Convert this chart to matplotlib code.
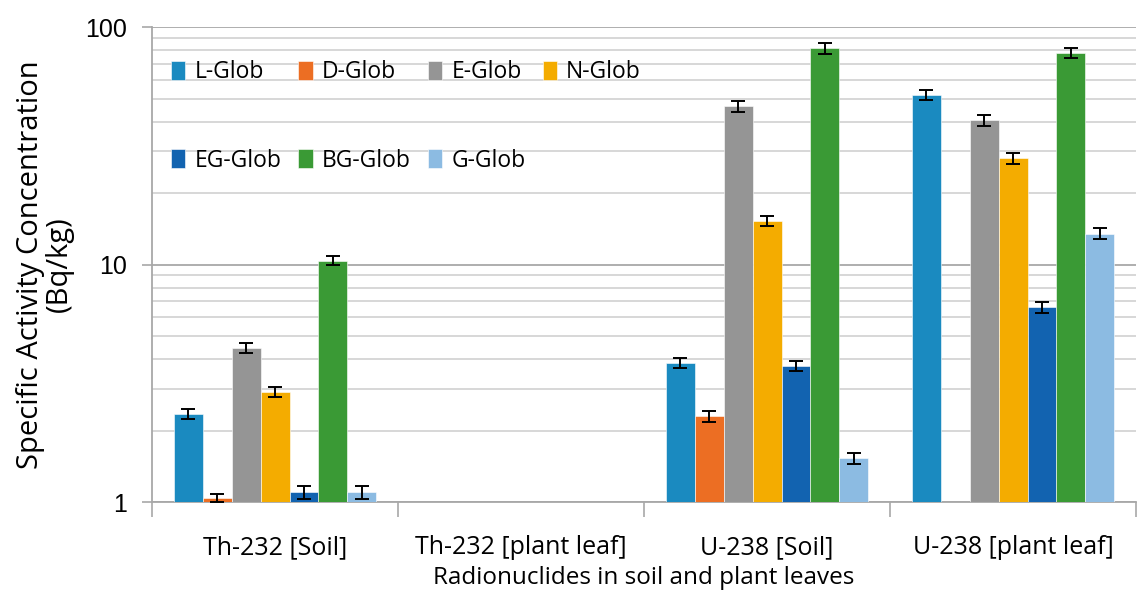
import numpy as np
import matplotlib
matplotlib.use('Agg')
import matplotlib.pyplot as plt
from matplotlib.ticker import LogLocator, NullFormatter, FixedLocator

plt.rcParams['font.family'] = ['Open Sans', 'DejaVu Sans']

# Data
categories = ['Th-232 [Soil]', 'Th-232 [plant leaf]', 'U-238 [Soil]', 'U-238 [plant leaf]']
series = ['L-Glob', 'D-Glob', 'E-Glob', 'N-Glob', 'EG-Glob', 'BG-Glob', 'G-Glob']
nan = np.nan
L_glob = [2.35, nan, 3.85, 52.0]
D_glob = [1.04, nan, 2.3, nan]
E_glob = [4.45, nan, 46.5, 40.5]
N_glob = [2.9, nan, 15.3, 28.0]
EG_glob = [1.1, nan, 3.75, 6.6]
BG_glob = [10.4, nan, 81.5, 78.0]
G_glob = [1.1, nan, 1.53, 13.5]

L_err = [0.12, nan, 0.18, 2.5]
D_err = [0.04, nan, 0.12, nan]
E_err = [0.22, nan, 2.4, 2.3]
N_err = [0.14, nan, 0.75, 1.4]
EG_err = [0.07, nan, 0.18, 0.35]
BG_err = [0.45, nan, 4.0, 4.0]
G_err = [0.07, nan, 0.08, 0.7]

values = [L_glob, D_glob, E_glob, N_glob, EG_glob, BG_glob, G_glob]
errors = [L_err, D_err, E_err, N_err, EG_err, BG_err, G_err]
colors = ['#1A8AC0', '#EC6E23', '#959595', '#F4AC00', '#1263B0', '#3A9A35', '#8CBBE2']

fig = plt.figure(figsize=(11.38, 6.01), dpi=100)
ax = fig.add_axes([0.1336, 0.1647, 0.8647, 0.790])

x = np.arange(len(categories))
w = 0.1177
bars = []
for i, (vals, errs, c, name) in enumerate(zip(values, errors, colors, series)):
    pos = x + (i - 3) * w
    b = ax.bar(pos, vals, width=w, color=c, label=name, zorder=3,
               edgecolor='white', linewidth=0.4)
    ax.errorbar(pos, vals, yerr=errs, fmt='none', ecolor='black',
                elinewidth=1.4, capsize=5, capthick=1.4, zorder=4)
    bars.append(b)

ax.set_yscale('log')
ax.set_ylim(1, 100)
ax.set_xlim(-0.5, len(categories) - 0.5)

# grid
ax.yaxis.set_minor_locator(LogLocator(base=10, subs=np.arange(2, 10), numticks=20))
ax.yaxis.set_minor_formatter(NullFormatter())
ax.set_yticks([1, 10, 100])
ax.set_yticklabels(['1', '10', '100'], family=['Liberation Sans', 'DejaVu Sans'])
ax.grid(axis='y', which='major', color='#A8A8A8', linewidth=1.3, zorder=0)
ax.grid(axis='y', which='minor', color='#D4D4D4', linewidth=1.3, zorder=0)
ax.tick_params(axis='y', which='major', length=7, width=1.2, color='#A8A8A8',
               labelsize=18, pad=11)
ax.tick_params(axis='y', which='minor', length=0)

# x ticks: labels at centres, tick marks on category boundaries
ax.set_xticks(x)
ax.set_xticklabels(categories)
ax.xaxis.set_minor_locator(FixedLocator(np.arange(-0.5, len(categories), 1.0)))
ax.tick_params(axis='x', which='major', length=0, labelsize=18, pad=24)
ax.tick_params(axis='x', which='minor', length=11, width=1.2, color='#A8A8A8')

for s in ['top', 'right']:
    ax.spines[s].set_visible(False)
ax.spines['left'].set_color('#A8A8A8')
ax.spines['bottom'].set_color('#A8A8A8')
ax.spines['left'].set_linewidth(1.3)
ax.spines['bottom'].set_linewidth(1.3)

ax.set_xlabel('Radionuclides in soil and plant leaves', fontsize=17.5, labelpad=4)
ax.set_ylabel('Specific Activity Concentration\n(Bq/kg)', fontsize=21, labelpad=8,
              linespacing=1.0)

# legend, row-major order like the reference
order = [0, 4, 1, 5, 2, 6, 3]
ax.legend([bars[k] for k in order], [series[k] for k in order], ncol=4,
          loc='upper left', bbox_to_anchor=(0.0193, 0.93), frameon=False,
          fontsize=16.5, handlelength=0.62, handleheight=0.9, handletextpad=0.4,
          columnspacing=0.75, labelspacing=2.8, borderpad=0, borderaxespad=0)

fig.savefig('out.png', dpi=100)
